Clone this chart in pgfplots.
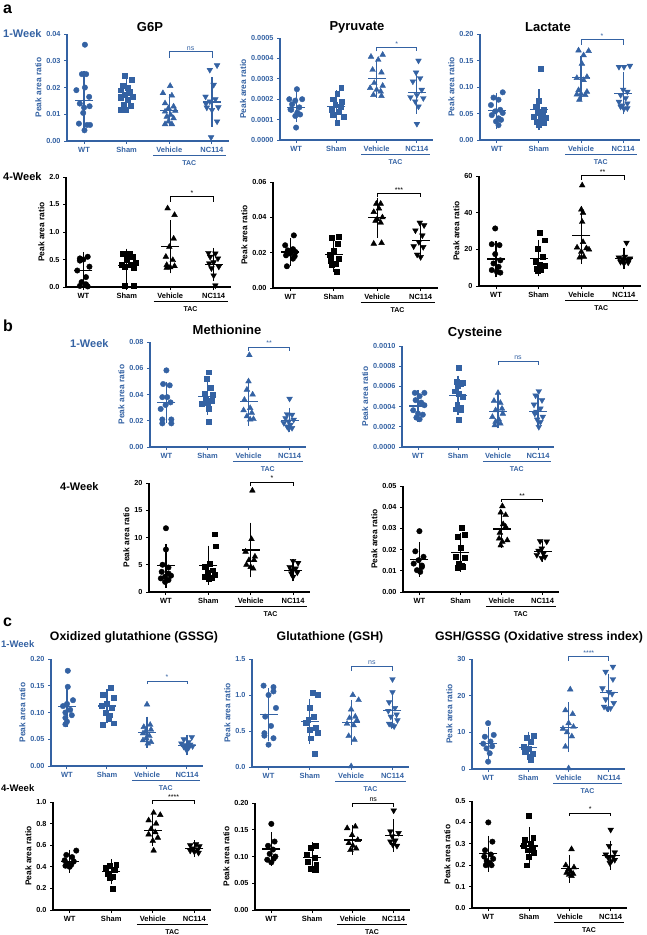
\documentclass[border=0pt]{standalone}
\usepackage{pgfplots}
\pgfplotsset{compat=1.18}
\usepackage{fontspec}
\setmainfont{Liberation Sans}
\definecolor{wkblue}{RGB}{52,98,163}

\newcommand\tkf{\bfseries\fontsize{7.3}{8.5}\selectfont}
\pgfplotsset{
  base/.style={scale only axis, anchor=south west, xmin=0.6, xmax=4.4, ymin=0,
    clip=false, axis x line*=bottom, axis y line*=left,
    axis line style={line width=1.1pt,-},
    xtick={1,2,3,4}, xticklabels={WT,Sham,Vehicle,NC114},
    major tick length=3pt, tick align=outside, tick style={line width=1pt},
    scaled y ticks=false,
    xticklabel style={font=\bfseries\fontsize{7.5}{9}\selectfont},
    yticklabel style={font=\tkf},
    ylabel={Peak area ratio},
    ylabel style={font=\bfseries\fontsize{8.4}{9}\selectfont, yshift=-2pt}},
  wk1/.style={base, axis line style={wkblue}, tick style={wkblue},
    xticklabel style={wkblue}, yticklabel style={wkblue}, ylabel style={wkblue}},
  wk4/.style={base, axis line style={black}, tick style={black},
    xticklabel style={black}, yticklabel style={black}, ylabel style={black}},
  pWT/.style={only marks, mark=*, mark size=2.75pt},
  pSh/.style={only marks, mark=square*, mark size=2.45pt},
  pVe/.style={only marks, mark=triangle*, mark size=3.3pt},
  pNC/.style={only marks, mark=triangle*, mark size=3.3pt, mark options={rotate=180}},
  msd/.style={only marks, mark=-, mark size=9pt, mark options={line width=1.2pt},
    error bars/.cd, y dir=both, y explicit, error mark=-,
    error bar style={line width=1.2pt},
    error mark options={line width=1.2pt, mark size=5.5pt}},
}
% significance bracket between Vehicle and NC114
\newcommand\sig[4]{%
  \addplot[#1, line width=0.8pt] coordinates {(3,#2) (3,#3) (4,#3) (4,#2)};
  \node[#1, font=\fontsize{7}{8}\selectfont, anchor=south, inner sep=1pt] at (axis cs:3.5,#3) {#4};}
% TAC group line below the axis
\newcommand\tac[1]{%
  \draw[#1, line width=0.8pt] ([yshift=-14pt]axis cs:2.62,0) -- ([yshift=-14pt]axis cs:4.32,0);
  \node[#1, font=\bfseries\fontsize{7}{8}\selectfont] at ([yshift=-22pt]axis cs:3.47,0) {TAC};}

\begin{document}
\begin{tikzpicture}
\path[use as bounding box] (0,0) rectangle (646pt,-935pt);

%% ---------------- a, 1 week ----------------
\begin{axis}[wk1, at={(67pt,-141pt)}, width=162pt, height=107pt, ymax=0.04,
  ytick={0,0.01,0.02,0.03,0.04}, yticklabels={0.00,0.01,0.02,0.03,0.04}]
\addplot[wkblue,pWT] coordinates {(1.02,0.036)(0.95,0.025)(1.05,0.025)(1.02,0.020)(0.82,0.019)(1.12,0.0165)(0.9,0.014)(1.13,0.013)(1.0,0.0125)(0.98,0.0105)(0.88,0.0065)(1.07,0.006)(1.14,0.006)(1.01,0.004)};
\addplot[wkblue,pSh] coordinates {(1.96,0.0245)(2.12,0.0228)(1.9,0.0208)(2.02,0.020)(1.85,0.019)(2.08,0.0185)(1.96,0.0173)(2.14,0.0166)(1.86,0.016)(2.02,0.0154)(1.94,0.0135)(2.1,0.0131)(1.98,0.0116)(1.86,0.0116)};
\addplot[wkblue,pVe] coordinates {(3.02,0.0206)(2.85,0.0179)(3.06,0.017)(2.9,0.0141)(3.1,0.0129)(2.98,0.0123)(3.14,0.0113)(2.9,0.011)(3.03,0.0098)(2.94,0.0091)(3.1,0.0085)(2.98,0.0073)(2.9,0.0063)(3.06,0.0063)};
\addplot[wkblue,pNC] coordinates {(4.12,0.0283)(3.95,0.0266)(4.04,0.021)(3.85,0.0166)(4.08,0.0156)(3.95,0.0148)(3.86,0.014)(4.15,0.0126)(3.88,0.0125)(4.0,0.0116)(4.12,0.0073)(3.98,0.0014)};
\addplot[wkblue,msd] coordinates {(1,0.0151)+-(0,0.0092) (2,0.0172)+-(0,0.004) (3,0.0115)+-(0,0.0039) (4,0.0146)+-(0,0.0073)};
\sig{wkblue}{0.031}{0.0335}{ns}
\tac{wkblue}
\end{axis}

\begin{axis}[wk1, at={(280pt,-140pt)}, width=153pt, height=102pt, ymax=0.0005,
  ytick={0,0.0001,0.0002,0.0003,0.0004,0.0005}, yticklabels={0.0000,0.0001,0.0002,0.0003,0.0004,0.0005}]
\addplot[wkblue,pWT] coordinates {(1.02,0.000249)(0.83,0.0002)(1.15,0.0002)(0.98,0.000193)(0.9,0.000175)(1.08,0.00016)(0.86,0.00015)(0.88,0.000148)(1.03,0.000134)(1.1,0.000125)(0.98,0.000118)(1.0,0.000061)};
\addplot[wkblue,pSh] coordinates {(2.12,0.000257)(2.02,0.000225)(1.92,0.0002)(2.14,0.000189)(1.97,0.000175)(2.1,0.000164)(1.88,0.000148)(2.06,0.000139)(1.92,0.000123)(2.18,0.000115)(2.02,0.000087)};
\addplot[wkblue,pVe] coordinates {(2.86,0.000408)(3.15,0.000418)(3.04,0.000393)(2.9,0.000344)(3.12,0.000331)(2.94,0.000279)(3.15,0.000266)(2.84,0.000255)(3.0,0.000246)(3.1,0.000238)(2.92,0.000221)(3.12,0.000216)};
\addplot[wkblue,pNC] coordinates {(4.04,0.000389)(3.98,0.000331)(4.08,0.000303)(3.9,0.000287)(4.12,0.000246)(4.0,0.000221)(3.84,0.00021)(4.16,0.000205)(3.96,0.000189)(4.04,0.000164)(4.0,0.000079)};
\addplot[wkblue,msd] coordinates {(1,0.00016)+-(0,0.000047) (2,0.000165)+-(0,0.000051) (3,0.000302)+-(0,0.000067) (4,0.000233)+-(0,0.000078)};
\sig{wkblue}{0.000435}{0.000454}{*}
\tac{wkblue}
\end{axis}

\begin{axis}[wk1, at={(480pt,-140pt)}, width=160pt, height=106pt, ymax=0.2,
  ytick={0,0.05,0.1,0.15,0.2}, yticklabels={0.00,0.05,0.10,0.15,0.20}]
\addplot[wkblue,pWT] coordinates {(1.14,0.09)(0.92,0.08)(1.04,0.076)(0.86,0.066)(1.08,0.057)(0.96,0.054)(1.14,0.051)(0.88,0.047)(1.04,0.041)(1.1,0.038)(0.98,0.035)(1.04,0.028)};
\addplot[wkblue,pSh] coordinates {(2.04,0.135)(2.0,0.075)(1.92,0.063)(2.12,0.057)(1.96,0.051)(2.08,0.047)(1.88,0.044)(2.16,0.042)(2.04,0.039)(1.94,0.035)(2.12,0.032)(2.0,0.029)};
\addplot[wkblue,pVe] coordinates {(2.94,0.169)(3.18,0.168)(3.06,0.16)(3.02,0.144)(3.14,0.119)(2.9,0.117)(3.06,0.113)(2.94,0.094)(3.14,0.091)(3.0,0.087)(2.9,0.086)(3.1,0.085)(2.96,0.076)};
\addplot[wkblue,pNC] coordinates {(3.9,0.138)(4.02,0.138)(4.16,0.14)(4.0,0.095)(4.1,0.091)(3.94,0.085)(4.06,0.079)(3.9,0.072)(4.1,0.069)(3.98,0.065)(3.94,0.063)(4.02,0.059)(4.1,0.06)};
\addplot[wkblue,msd] coordinates {(1,0.055)+-(0,0.023) (2,0.057)+-(0,0.028) (3,0.1175)+-(0,0.0315) (4,0.088)+-(0,0.0295)};
\sig{wkblue}{0.18}{0.19}{*}
\tac{wkblue}
\end{axis}

%% ---------------- a, 4 weeks ----------------
\begin{axis}[wk4, at={(66pt,-287pt)}, width=165pt, height=110pt, ymax=2,
  ytick={0,0.5,1,1.5,2}, yticklabels={0.0,0.5,1.0,1.5,2.0}]
\addplot[black,pWT] coordinates {(0.92,0.52)(1.1,0.55)(1.0,0.5)(0.92,0.48)(1.14,0.37)(0.86,0.3)(1.06,0.18)(0.96,0.09)(1.06,0.05)(0.92,0.02)(1.1,0.01)};
\addplot[black,pSh] coordinates {(1.9,0.61)(2.06,0.6)(2.14,0.55)(2.0,0.49)(2.2,0.45)(1.88,0.4)(2.1,0.4)(1.96,0.37)(2.16,0.35)(1.96,0.02)(2.16,0.02)};
\addplot[black,pVe] coordinates {(2.94,1.43)(3.1,1.31)(3.08,0.88)(2.98,0.73)(2.9,0.55)(3.06,0.49)(2.92,0.4)(3.1,0.38)(3.0,0.36)(2.92,0.35)};
\addplot[black,pNC] coordinates {(3.88,0.62)(4.04,0.61)(3.92,0.55)(4.1,0.52)(4.0,0.45)(3.9,0.43)(4.12,0.37)(3.95,0.34)(4.0,0.21)(4.04,0.03)};
\addplot[black,msd] coordinates {(1,0.305)+-(0,0.23) (2,0.39)+-(0,0.21) (3,0.73)+-(0,0.38) (4,0.41)+-(0,0.2)};
\sig{black}{1.55}{1.65}{*}
\tac{black}
\end{axis}

\begin{axis}[wk4, at={(273pt,-288pt)}, width=165pt, height=106pt, ymax=0.06,
  ytick={0,0.02,0.04,0.06}, yticklabels={0.00,0.02,0.04,0.06}]
\addplot[black,pWT] coordinates {(1.08,0.0298)(0.88,0.0242)(1.06,0.022)(0.94,0.0213)(1.12,0.0204)(1.0,0.0195)(0.9,0.0185)(1.1,0.018)(1.06,0.0166)(0.92,0.0123)};
\addplot[black,pSh] coordinates {(2.12,0.0292)(1.96,0.0285)(2.08,0.0251)(2.0,0.0213)(1.9,0.019)(2.12,0.0166)(1.92,0.0157)(2.04,0.0138)(1.96,0.013)(2.06,0.009)};
\addplot[black,pVe] coordinates {(2.98,0.0477)(3.08,0.0477)(3.04,0.045)(2.92,0.043)(3.12,0.04)(3.0,0.039)(2.96,0.038)(3.08,0.037)(2.92,0.0251)(3.1,0.0255)};
\addplot[black,pNC] coordinates {(3.98,0.037)(4.08,0.0355)(3.88,0.0326)(4.04,0.0298)(3.96,0.026)(3.84,0.0236)(4.06,0.0232)(3.92,0.0189)(4.0,0.0175)};
\addplot[black,msd] coordinates {(1,0.0204)+-(0,0.0047) (2,0.0189)+-(0,0.0069) (3,0.0398)+-(0,0.0083) (4,0.027)+-(0,0.006)};
\sig{black}{0.0515}{0.0534}{***}
\tac{black}
\end{axis}

\begin{axis}[wk4, at={(479pt,-286pt)}, width=162pt, height=110pt, ymax=60,
  ytick={0,20,40,60}, yticklabels={0,20,40,60}]
\addplot[black,pWT] coordinates {(0.98,31.4)(0.9,22.8)(1.08,22.3)(0.98,17.4)(1.1,14)(0.94,12.3)(1.06,10.5)(0.9,8.7)(1.02,7.8)(1.1,7.3)};
\addplot[black,pSh] coordinates {(2.02,29)(2.14,25)(1.98,20.5)(2.1,16)(1.92,13.2)(2.02,11.5)(2.14,10.9)(1.96,9.6)(2.06,8.7)(1.98,8.5)};
\addplot[black,pVe] coordinates {(3.02,54.9)(3.0,41.7)(3.04,39.9)(3.02,35)(3.04,24)(2.9,21)(3.12,20.6)(3.18,19.9)(3.0,18.7)(3.06,16)(2.96,15.5)};
\addplot[black,pNC] coordinates {(4.06,23.6)(4.02,16)(3.88,15.5)(4.14,15)(3.96,14.7)(4.08,14)(3.92,13.2)(4.1,12.8)(4.0,12.3)};
\addplot[black,msd] coordinates {(1,14.7)+-(0,7) (2,15.2)+-(0,7) (3,27.7)+-(0,12.7) (4,15.1)+-(0,2.9)};
\sig{black}{58}{60.4}{**}
\tac{black}
\end{axis}

%% ---------------- b, 1 week ----------------
\begin{axis}[wk1, at={(150pt,-447pt)}, width=156pt, height=105pt, ymax=0.08,
  ytick={0,0.02,0.04,0.06,0.08}, yticklabels={0.00,0.02,0.04,0.06,0.08}]
\addplot[wkblue,pWT] coordinates {(1.0,0.0584)(0.92,0.048)(1.08,0.047)(1.02,0.038)(0.9,0.038)(1.1,0.034)(0.98,0.032)(0.86,0.029)(1.12,0.021)(0.9,0.021)(1.12,0.018)(0.9,0.018)};
\addplot[wkblue,pSh] coordinates {(2.04,0.057)(1.98,0.052)(2.08,0.045)(1.92,0.041)(2.12,0.04)(1.96,0.036)(2.1,0.035)(2.0,0.034)(1.86,0.033)(2.04,0.029)(2.02,0.019)};
\addplot[wkblue,pVe] coordinates {(3.02,0.07)(3.0,0.05)(2.96,0.0437)(3.1,0.04)(2.9,0.036)(3.04,0.0297)(2.88,0.028)(3.08,0.026)(2.96,0.0234)(3.12,0.0213)(3.04,0.021)};
\addplot[wkblue,pNC] coordinates {(4.0,0.0368)(3.94,0.025)(4.06,0.0246)(3.9,0.022)(4.1,0.0208)(3.98,0.0195)(3.86,0.0183)(4.02,0.017)(3.94,0.0157)(4.06,0.0145)(3.98,0.014)};
\addplot[wkblue,msd] coordinates {(1,0.034)+-(0,0.0115) (2,0.0385)+-(0,0.0098) (3,0.0345)+-(0,0.014) (4,0.0203)+-(0,0.005)};
\sig{wkblue}{0.0735}{0.0762}{**}
\tac{wkblue}
\end{axis}

\begin{axis}[wk1, at={(402pt,-447pt)}, width=152pt, height=101pt, ymax=0.001,
  ytick={0,0.0002,0.0004,0.0006,0.0008,0.001}, yticklabels={0.0000,0.0002,0.0004,0.0006,0.0008,0.0010}]
\addplot[wkblue,pWT] coordinates {(0.92,0.000536)(1.16,0.000536)(1.04,0.000503)(0.94,0.000464)(1.08,0.00044)(1.16,0.000414)(0.88,0.000364)(1.0,0.000331)(1.12,0.00032)(0.96,0.000291)(1.04,0.000275)};
\addplot[wkblue,pSh] coordinates {(2.02,0.000785)(1.96,0.000646)(2.08,0.00063)(2.12,0.00064)(2.0,0.00061)(1.92,0.000553)(2.02,0.00053)(2.12,0.000497)(1.94,0.000374)(2.08,0.000364)(2.02,0.000272)(1.98,0.00042)(2.06,0.00039)};
\addplot[wkblue,pVe] coordinates {(3.0,0.000536)(2.9,0.000457)(3.06,0.000437)(3.1,0.00038)(2.94,0.000364)(3.12,0.00033)(2.86,0.000298)(3.02,0.000272)(2.94,0.00025)(3.06,0.000232)(2.92,0.000215)};
\addplot[wkblue,pNC] coordinates {(4.02,0.000553)(3.94,0.00051)(4.1,0.000464)(3.9,0.00042)(4.06,0.000381)(3.96,0.00035)(3.92,0.000331)(4.12,0.0003)(3.98,0.000272)(4.06,0.000248)(4.02,0.000199)};
\addplot[wkblue,msd] coordinates {(1,0.000407)+-(0,0.000105) (2,0.000513)+-(0,0.00014) (3,0.000354)+-(0,0.000115) (4,0.000354)+-(0,0.000103)};
\sig{wkblue}{0.00081}{0.00085}{ns}
\tac{wkblue}
\end{axis}

%% ---------------- b, 4 weeks ----------------
\begin{axis}[wk4, at={(149pt,-592pt)}, width=161pt, height=109pt, ymax=20,
  ytick={0,5,10,15,20}, yticklabels={0,5,10,15,20}]
\addplot[black,pWT] coordinates {(1.0,11.7)(1.0,7.8)(0.92,5)(1.06,4.5)(0.9,3.7)(1.06,3.4)(1.12,3)(0.98,2.8)(0.88,2.5)(1.06,2.2)(0.98,1.85)};
\addplot[black,pSh] coordinates {(2.16,10.6)(2.18,8.4)(2.04,5.2)(1.92,4.6)(2.1,4)(1.98,3.5)(2.16,3.1)(1.92,2.8)(2.08,2.6)(2.0,2.5)};
\addplot[black,pVe] coordinates {(3.04,18.6)(3.02,9.7)(2.88,7.4)(3.1,6.5)(2.96,5.85)(3.08,5.85)(2.9,5)(3.0,4.6)(3.06,4.3)};
\addplot[black,pNC] coordinates {(4.0,5.7)(4.12,5.35)(3.92,4.6)(4.06,4.3)(3.96,4)(4.1,3.6)(3.96,3.4)(4.0,2.8)};
\addplot[black,msd] coordinates {(1,4.8)+-(0,3) (2,4.9)+-(0,2.6) (3,7.7)+-(0,4) (4,4.0)+-(0,1.05)};
\sig{black}{19.4}{20.2}{*}
\tac{black}
\end{axis}

\begin{axis}[wk4, at={(403pt,-592pt)}, width=156pt, height=106pt, ymax=0.05,
  ytick={0,0.01,0.02,0.03,0.04,0.05}, yticklabels={0.00,0.01,0.02,0.03,0.04,0.05}]
\addplot[black,pWT] coordinates {(1.0,0.0287)(0.9,0.0192)(1.1,0.0166)(0.98,0.015)(0.86,0.0134)(1.06,0.0125)(1.06,0.0118)(0.94,0.0103)(1.02,0.0095)};
\addplot[black,pSh] coordinates {(2.04,0.0304)(2.1,0.0271)(1.92,0.026)(2.0,0.021)(1.88,0.0166)(2.1,0.0162)(1.96,0.0134)(2.04,0.0125)(2.06,0.0118)(1.94,0.0115)};
\addplot[black,pVe] coordinates {(3.02,0.0405)(2.98,0.0375)(3.1,0.0363)(3.04,0.032)(3.1,0.0308)(2.96,0.028)(2.94,0.0252)(3.14,0.0244)(3.02,0.0237)(2.98,0.022)};
\addplot[black,pNC] coordinates {(3.94,0.024)(4.1,0.0238)(3.98,0.0205)(3.9,0.0195)(4.02,0.0181)(3.86,0.0175)(4.06,0.0166)(3.98,0.016)};
\addplot[black,msd] coordinates {(1,0.0155)+-(0,0.0056) (2,0.0186)+-(0,0.0065) (3,0.0297)+-(0,0.0062) (4,0.0192)+-(0,0.0024)};
\sig{black}{0.0425}{0.0437}{**}
\tac{black}
\end{axis}

%% ---------------- c, 1 week ----------------
\begin{axis}[wk1, at={(51pt,-766pt)}, width=152pt, height=107pt, ymax=0.2,
  ytick={0,0.05,0.1,0.15,0.2}, yticklabels={0.00,0.05,0.10,0.15,0.20}]
\addplot[wkblue,pWT] coordinates {(1.02,0.178)(1.02,0.148)(1.15,0.123)(1.0,0.116)(0.9,0.112)(1.08,0.105)(0.96,0.1)(1.12,0.095)(0.96,0.09)(1.0,0.083)(0.96,0.078)};
\addplot[wkblue,pSh] coordinates {(2.1,0.147)(1.9,0.133)(2.16,0.127)(2.0,0.117)(1.86,0.112)(2.12,0.108)(1.96,0.1)(2.08,0.095)(2.04,0.089)(2.16,0.08)(1.9,0.077)};
\addplot[wkblue,pVe] coordinates {(3.0,0.115)(3.08,0.077)(2.92,0.073)(3.1,0.068)(2.96,0.064)(2.9,0.061)(3.06,0.056)(2.98,0.052)(2.9,0.048)(3.1,0.045)(3.02,0.042)};
\addplot[wkblue,pNC] coordinates {(4.12,0.054)(3.92,0.05)(4.04,0.045)(3.86,0.042)(4.08,0.04)(3.96,0.039)(4.14,0.037)(3.92,0.036)(4.04,0.034)(3.98,0.031)};
\addplot[wkblue,msd] coordinates {(1,0.111)+-(0,0.027) (2,0.112)+-(0,0.021) (3,0.063)+-(0,0.019) (4,0.039)+-(0,0.009)};
\sig{wkblue}{0.153}{0.159}{*}
\tac{wkblue}
\end{axis}

\begin{axis}[wk1, at={(252pt,-767pt)}, width=157pt, height=108pt, ymax=1.5,
  ytick={0,0.5,1,1.5}, yticklabels={0.0,0.5,1.0,1.5}]
\addplot[wkblue,pWT] coordinates {(0.88,1.13)(1.12,1.11)(1.12,1.05)(1.0,1.0)(1.18,0.82)(0.92,0.7)(1.06,0.57)(0.9,0.47)(0.9,0.435)(1.12,0.4)(1.0,0.31)};
\addplot[wkblue,pSh] coordinates {(2.06,1.03)(2.2,1.0)(2.0,0.82)(2.1,0.7)(1.96,0.66)(1.9,0.61)(2.14,0.55)(2.0,0.52)(2.18,0.48)(2.02,0.4)(2.12,0.19)};
\addplot[wkblue,pVe] coordinates {(3.04,1.0)(3.18,0.93)(3.0,0.8)(3.1,0.7)(2.96,0.68)(3.14,0.65)(2.9,0.6)(3.06,0.58)(2.94,0.43)(3.08,0.38)(3.0,0.01)};
\addplot[wkblue,pNC] coordinates {(4.0,1.22)(4.0,1.04)(3.92,0.9)(4.06,0.82)(3.9,0.78)(4.1,0.73)(3.96,0.7)(4.12,0.65)(3.92,0.6)(4.04,0.565)(3.98,0.58)};
\addplot[wkblue,msd] coordinates {(1,0.727)+-(0,0.29) (2,0.633)+-(0,0.233) (3,0.62)+-(0,0.235) (4,0.78)+-(0,0.165)};
\sig{wkblue}{1.34}{1.4}{ns}
\tac{wkblue}
\end{axis}

\begin{axis}[wk1, at={(472pt,-769pt)}, width=153pt, height=110pt, ymax=30,
  ytick={0,10,20,30}, yticklabels={0,10,20,30}]
\addplot[wkblue,pWT] coordinates {(1.0,12.5)(1.14,9.3)(0.92,8.8)(1.06,7.5)(0.88,6.9)(1.1,6.2)(0.96,5.6)(1.04,4.3)(1.0,2.0)};
\addplot[wkblue,pSh] coordinates {(2.14,9.0)(1.96,8.6)(2.06,7.5)(1.88,6.1)(2.0,5.5)(1.92,4.7)(2.1,4.2)(2.02,3.4)(2.06,2.5)};
\addplot[wkblue,pVe] coordinates {(3.04,21.7)(2.92,16)(3.1,15)(3.0,12.5)(3.12,11.5)(2.86,11)(2.96,10)(3.08,8.9)(2.92,6.1)(3.0,0.2)};
\addplot[wkblue,pNC] coordinates {(4.1,27.9)(3.92,26.5)(4.1,24.5)(3.84,22)(4.0,21)(4.08,20.5)(3.92,19)(4.12,18)(3.88,17)(4.04,16.6)(3.96,16.5)};
\addplot[wkblue,msd] coordinates {(1,7.0)+-(0,2.9) (2,5.9)+-(0,2.8) (3,11.4)+-(0,5.3) (4,20.8)+-(0,3.7)};
\sig{wkblue}{29.4}{30.6}{****}
\tac{wkblue}
\end{axis}

%% ---------------- c, 4 weeks ----------------
\begin{axis}[wk4, at={(53pt,-910pt)}, width=158pt, height=108pt, ymax=1,
  ytick={0,0.2,0.4,0.6,0.8,1}, yticklabels={0.0,0.2,0.4,0.6,0.8,1.0}]
\addplot[black,pWT] coordinates {(1.16,0.55)(0.92,0.51)(1.06,0.49)(0.88,0.46)(1.1,0.45)(0.94,0.43)(1.04,0.42)(0.9,0.41)(1.0,0.4)};
\addplot[black,pSh] coordinates {(2.12,0.42)(1.96,0.41)(1.86,0.39)(2.08,0.37)(1.92,0.34)(2.04,0.31)(1.96,0.3)(2.04,0.2)};
\addplot[black,pVe] coordinates {(3.02,0.9)(3.18,0.88)(2.9,0.83)(3.08,0.8)(2.96,0.75)(3.06,0.72)(2.9,0.7)(3.12,0.67)(3.0,0.64)(3.02,0.55)};
\addplot[black,pNC] coordinates {(4.04,0.61)(3.9,0.6)(4.12,0.59)(3.96,0.57)(4.08,0.56)(3.9,0.55)(4.0,0.54)(4.1,0.53)};
\addplot[black,msd] coordinates {(1,0.452)+-(0,0.055) (2,0.354)+-(0,0.065) (3,0.738)+-(0,0.098) (4,0.569)+-(0,0.028)};
\sig{black}{0.98}{1.015}{****}
\tac{black}
\end{axis}

\begin{axis}[wk4, at={(255pt,-910pt)}, width=155pt, height=107pt, ymax=0.2,
  ytick={0,0.05,0.1,0.15,0.2}, yticklabels={0.00,0.05,0.10,0.15,0.20}]
\addplot[black,pWT] coordinates {(1.0,0.161)(1.08,0.128)(0.92,0.12)(1.04,0.113)(0.96,0.105)(1.1,0.1)(0.9,0.094)(1.0,0.089)(1.06,0.096)};
\addplot[black,pSh] coordinates {(2.08,0.12)(1.96,0.116)(1.86,0.103)(2.06,0.097)(1.9,0.09)(2.1,0.085)(1.96,0.077)(2.08,0.075)};
\addplot[black,pVe] coordinates {(3.06,0.156)(2.86,0.153)(2.98,0.14)(3.12,0.131)(2.9,0.125)(3.0,0.12)(3.08,0.115)(2.94,0.112)};
\addplot[black,pNC] coordinates {(4.0,0.186)(3.92,0.147)(4.12,0.144)(3.96,0.138)(4.04,0.13)(3.92,0.128)(4.08,0.12)(3.98,0.122)};
\addplot[black,msd] coordinates {(1,0.114)+-(0,0.021) (2,0.098)+-(0,0.018) (3,0.131)+-(0,0.017) (4,0.139)+-(0,0.02)};
\sig{black}{0.193}{0.2}{ns}
\tac{black}
\end{axis}

\begin{axis}[wk4, at={(472pt,-908pt)}, width=155pt, height=107pt, ymax=0.5,
  ytick={0,0.1,0.2,0.3,0.4,0.5}, yticklabels={0.0,0.1,0.2,0.3,0.4,0.5}]
\addplot[black,pWT] coordinates {(1.0,0.4)(1.1,0.31)(0.92,0.27)(1.06,0.25)(0.9,0.24)(1.12,0.23)(0.96,0.22)(1.04,0.21)(0.94,0.2)(1.08,0.2)};
\addplot[black,pSh] coordinates {(1.98,0.43)(2.1,0.33)(1.9,0.32)(2.04,0.3)(1.86,0.29)(2.08,0.28)(1.96,0.27)(2.12,0.26)(2.0,0.24)(1.94,0.2)};
\addplot[black,pVe] coordinates {(3.04,0.275)(2.9,0.2)(3.1,0.19)(2.96,0.18)(3.02,0.17)(2.92,0.165)(3.08,0.16)(2.98,0.155)(3.04,0.15)};
\addplot[black,pNC] coordinates {(4.0,0.366)(3.96,0.29)(4.1,0.26)(3.88,0.25)(4.06,0.24)(3.94,0.235)(4.1,0.225)(3.98,0.21)(4.02,0.22)};
\addplot[black,msd] coordinates {(1,0.253)+-(0,0.058) (2,0.29)+-(0,0.064) (3,0.183)+-(0,0.04) (4,0.247)+-(0,0.042)};
\sig{black}{0.43}{0.444}{*}
\tac{black}
\end{axis}

%% ---------------- titles and row labels ----------------
\begin{scope}[every node/.style={font=\bfseries\fontsize{13}{15}\selectfont}]
\node at (150pt,-27pt) {G6P};
\node at (357pt,-27pt) {Pyruvate};
\node at (548pt,-27pt) {Lactate};
\node at (227pt,-330pt) {Methionine};
\node at (475pt,-333pt) {Cysteine};
\end{scope}
\begin{scope}[every node/.style={font=\bfseries\fontsize{12.3}{14}\selectfont}]
\node at (134pt,-637pt) {Oxidized glutathione (GSSG)};
\node at (330pt,-637pt) {Glutathione (GSH)};
\node at (539pt,-637pt) {GSH/GSSG (Oxidative stress index)};
\end{scope}
\begin{scope}[every node/.style={font=\bfseries\fontsize{16}{18}\selectfont, anchor=west, inner sep=0pt}]
\node at (3pt,-9pt) {a};
\node at (3pt,-326pt) {b};
\node at (3pt,-622pt) {c};
\end{scope}
\begin{scope}[every node/.style={font=\bfseries\fontsize{11}{13}\selectfont, anchor=west, inner sep=0pt}]
\node[wkblue] at (3pt,-34pt) {1-Week};
\node at (3pt,-177pt) {4-Week};
\node[wkblue] at (70pt,-344pt) {1-Week};
\node at (60pt,-487pt) {4-Week};
\end{scope}
\begin{scope}[every node/.style={font=\bfseries\fontsize{9.5}{11}\selectfont, anchor=west, inner sep=0pt}]
\node[wkblue] at (1pt,-644pt) {1-Week};
\node at (1pt,-788pt) {4-Week};
\end{scope}
\end{tikzpicture}
\end{document}
